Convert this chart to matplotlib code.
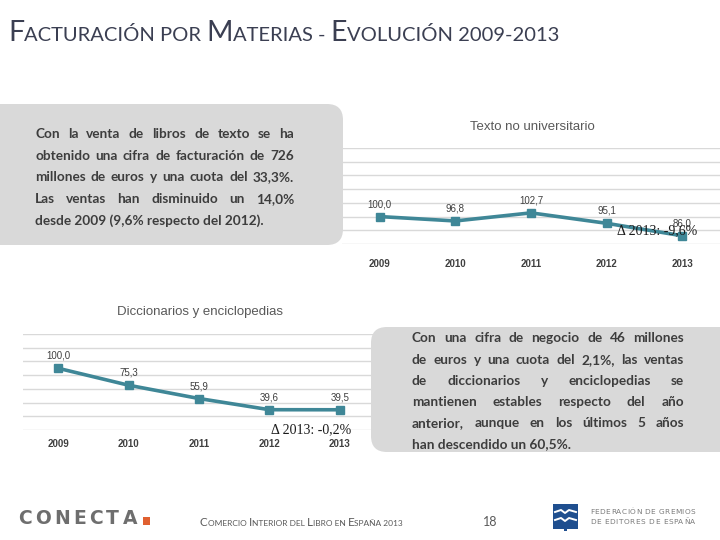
import matplotlib
matplotlib.use('Agg')
import matplotlib.pyplot as plt
from matplotlib.patches import FancyBboxPatch, Rectangle
import numpy as np

# data
years = ['2009', '2010', '2011', '2012', '2013']
texto_vals = [100.0, 96.8, 102.7, 95.1, 86.0]
dicc_vals = [100.0, 75.3, 55.9, 39.6, 39.5]
texto_delta = 'Δ 2013: -9,6%'
dicc_delta = 'Δ 2013: -0,2%'

texto_lines = [
    'Con la venta de libros de texto se ha',
    'obtenido una cifra de facturación de 726',
    'millones de euros y una cuota del 33,3%.',
    'Las ventas han disminuido un 14,0%',
    'desde 2009 (9,6% respecto del 2012).',
]
dicc_lines = [
    'Con una cifra de negocio de 46 millones',
    'de euros y una cuota del 2,1%, las ventas',
    'de diccionarios y enciclopedias se',
    'mantienen estables respecto del año',
    'anterior, aunque en los últimos 5 años',
    'han descendido un 60,5%.',
]

TEAL = '#3f8797'
GRID = '#d9d9d9'
BOXC = '#d9d9d9'
W, H = 720, 540

fig = plt.figure(figsize=(7.2, 5.4), dpi=100)
renderer = fig.canvas.get_renderer()


def rect(x0, y0, x1, y1):
    return [x0 / W, 1 - y1 / H, (x1 - x0) / W, (y1 - y0) / H]


def fmt(v):
    return f'{v:.1f}'.replace('.', ',')


def line_chart(pos, vals, ylim, step, xpad, delta, delta_off):
    ax = fig.add_axes(rect(*pos))
    x = np.arange(len(vals))
    ax.plot(x, vals, color=TEAL, lw=2.6, marker='s', ms=5.5, zorder=3)
    ax.set_xlim(-0.5, len(vals) - 0.5)
    ax.set_ylim(*ylim)
    ax.set_yticks(np.arange(ylim[0], ylim[1] + 1, step))
    ax.yaxis.grid(True, color=GRID, lw=1.0)
    ax.set_axisbelow(True)
    for s in ax.spines.values():
        s.set_visible(False)
    ax.tick_params(axis='y', left=False, labelleft=False)
    ax.tick_params(axis='x', bottom=False, pad=xpad)
    ax.set_xticks(x, years, fontsize=7, fontweight='bold', color='#404040',
                  family='Liberation Sans')
    ax.patch.set_alpha(0)
    for xi, v in zip(x, vals):
        ax.annotate(fmt(v), (xi, v), xytext=(0, 9), textcoords='offset points',
                    ha='center', va='center', fontsize=7, color='#404040',
                    family='Liberation Sans')
    ax.annotate(delta, (x[-1], vals[-1]), xytext=delta_off, textcoords='offset points',
                ha='center', va='center', fontsize=10, color='#1a1a1a',
                family='Liberation Serif', zorder=6)
    return ax


line_chart((342, 148, 720, 244), texto_vals, (80, 150), 10, 7, texto_delta, (-18, 4))
line_chart((23, 334, 375, 430), dicc_vals, (10, 150), 20, 3, dicc_delta, (-21, -14))

# overlay in pixel coordinates
ov = fig.add_axes([0, 0, 1, 1], zorder=5)
ov.set_xlim(0, W)
ov.set_ylim(H, 0)
ov.axis('off')
ov.patch.set_alpha(0)


def tw(s, **kw):
    t = ov.text(0, 0, '|' + s + '|', **kw)
    w = t.get_window_extent(renderer).width
    t.remove()
    t = ov.text(0, 0, '||', **kw)
    w0 = t.get_window_extent(renderer).width
    t.remove()
    return w - w0


def smallcaps(x, y, runs, big, small, width, **kw):
    tot = sum(tw(s, fontsize=big if b else small, **kw) for s, b in runs)
    k = width / tot
    for s, b in runs:
        fs = (big if b else small) * k
        ov.text(x, y, s, fontsize=fs, ha='left', va='baseline', **kw)
        x += tw(s, fontsize=fs, **kw)


def justify(lines, x0, x1, y0, dy, **kw):
    for i, line in enumerate(lines):
        y = y0 + i * dy
        if i == len(lines) - 1:
            ov.text(x0, y, line, ha='left', va='baseline', **kw)
            continue
        words = line.split()
        ws = [tw(w, **kw) for w in words]
        gap = (x1 - x0 - sum(ws)) / (len(words) - 1)
        x = x0
        for w, wd in zip(words, ws):
            ov.text(x, y, w, ha='left', va='baseline', **kw)
            x += wd + gap


def spread(text, x0, x1, y, **kw):
    ws = [tw(c, **kw) for c in text]
    extra = (x1 - x0 - sum(ws)) / (len(text) - 1)
    x = x0
    for c, wd in zip(text, ws):
        ov.text(x, y, c, ha='left', va='baseline', **kw)
        x += wd + extra


# title
smallcaps(8, 41, [('F', True), ('ACTURACIÓN POR ', False), ('M', True),
                  ('ATERIAS - ', False), ('E', True), ('VOLUCIÓN 2009-2013', False)],
          22, 15.5, 548, family='Lato', color='#3b3f52')

# text boxes
ov.add_patch(FancyBboxPatch((-30, 104), 373, 141, boxstyle='round,pad=0,rounding_size=16',
                            fc=BOXC, ec='none'))
ov.add_patch(FancyBboxPatch((371, 327), 380, 125, boxstyle='round,pad=0,rounding_size=16',
                            fc=BOXC, ec='none'))
body = dict(family='Lato', fontweight='bold', fontsize=9.8, color='#3d3d3d')
justify(texto_lines, 35, 294, 138, 21.6, **body)
justify(dicc_lines, 412, 684, 342.5, 21.1, **body)

# chart titles
ov.text(532, 127, 'Texto no universitario', ha='center', va='center', fontsize=9.5,
        color='#595959', family='Liberation Sans')
ov.text(200, 312, 'Diccionarios y enciclopedias', ha='center', va='center', fontsize=9.5,
        color='#595959', family='Liberation Sans')

# footer
spread('CONECTA', 18, 137, 524.5, family='DejaVu Sans', fontweight='bold', fontsize=13.5,
       color='#6e6e6e')
ov.add_patch(Rectangle((143, 517), 7, 8, fc='#e06030', ec='none'))
smallcaps(200, 526, [('C', True), ('OMERCIO ', False), ('I', True), ('NTERIOR DEL ', False),
                     ('L', True), ('IBRO EN ', False), ('E', True), ('SPAÑA 2013', False)],
          9, 6.5, 204, family='Lato', color='#595959')
ov.text(490, 526, '18', ha='center', va='baseline', fontsize=9, color='#595959', family='Lato')

ov.add_patch(Rectangle((553, 504), 25, 25, fc='#1f4f8f', ec='none'))
ov.plot([555, 561, 565, 569, 576], [512, 510, 513, 510, 512], color='white', lw=1.4)
ov.plot([555, 561, 565, 569, 576], [520, 518, 521, 518, 520], color='white', lw=1.4)
ov.add_patch(Rectangle((564, 526), 3, 5, fc='#1f4f8f', ec='none'))
spread('FEDERACIÓN DE GREMIOS', 590, 695, 513.5, family='DejaVu Sans', fontsize=5.3,
       color='#7a7a7a')
spread('DE EDITORES DE ESPAÑA', 590, 695, 524, family='DejaVu Sans', fontsize=5.3,
       color='#7a7a7a')

fig.savefig('out.png', dpi=100)
